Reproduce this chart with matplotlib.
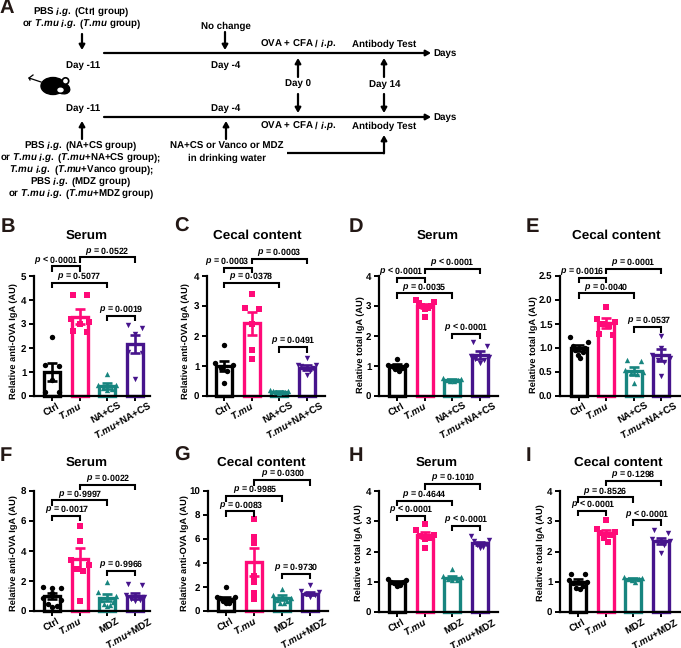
import matplotlib
matplotlib.use('Agg')
import matplotlib.pyplot as plt
from matplotlib.patches import Ellipse, Circle
from matplotlib.transforms import ScaledTranslation

plt.rcParams['font.family'] = 'Liberation Sans'
plt.rcParams['font.weight'] = 'bold'
plt.rcParams['text.hinting'] = 'no_hinting'
plt.rcParams['mathtext.fontset'] = 'custom'
plt.rcParams['mathtext.default'] = 'regular'
plt.rcParams['mathtext.it'] = 'Liberation Sans:italic:bold'
plt.rcParams['mathtext.rm'] = 'Liberation Sans:bold'
plt.rcParams['mathtext.bf'] = 'Liberation Sans:bold'

W, H = 681, 648
TMU = r'$\mathit{T.\!mu}$'
labels_nacs = ['Ctrl', TMU, 'NA+CS', TMU + '+NA+CS']
labels_mdz = ['Ctrl', TMU, 'MDZ', TMU + '+MDZ']

colors = ['#000000', '#ff0a78', '#17857f', '#46148c']
markers = ['o', 's', '^', 'v']

# bar heights, error bars and dots
b_means = [1.0, 3.3, 0.42, 2.17]
b_sems = [0.37, 0.32, 0.12, 0.37]
b_pts = [[2.45, 1.3, 1.25, 0.65, 0.15, 0.15],
         [4.2, 4.2, 3.2, 3.1, 3.0, 2.7, 2.65],
         [0.9, 0.45, 0.45, 0.35, 0.3, 0.25],
         [2.95, 2.85, 2.6, 1.85, 1.8, 0.7]]
c_means = [1.0, 2.42, 0.15, 0.95]
c_sems = [0.18, 0.37, 0.03, 0.07]
c_pts = [[1.7, 1.1, 1.05, 0.95, 0.85, 0.45],
         [3.4, 2.95, 2.9, 2.4, 1.55, 1.25],
         [0.2, 0.18, 0.16, 0.15, 0.14, 0.12, 0.1],
         [1.28, 1.05, 1.02, 1.0, 0.95, 0.9, 0.85, 0.7]]
d_means = [1.0, 3.0, 0.54, 1.37]
d_sems = [0.07, 0.07, 0.03, 0.12]
d_pts = [[1.22, 1.05, 1.02, 1.0, 0.95, 0.9, 0.82],
         [3.2, 3.15, 3.1, 3.0, 3.0, 2.95, 2.9, 2.65],
         [0.6, 0.57, 0.55, 0.52, 0.5, 0.5],
         [1.8, 1.68, 1.35, 1.3, 1.25, 1.2, 1.1]]
e_means = [1.0, 1.52, 0.52, 0.85]
e_sems = [0.07, 0.1, 0.08, 0.12]
e_pts = [[1.22, 1.12, 1.05, 1.0, 0.95, 0.92, 0.85, 0.8],
         [1.85, 1.6, 1.55, 1.5, 1.45, 1.3, 1.28],
         [0.76, 0.72, 0.55, 0.5, 0.48, 0.45, 0.27],
         [1.25, 1.0, 0.85, 0.8, 0.75, 0.7, 0.42]]
f_means = [1.0, 3.45, 0.9, 1.0]
f_sems = [0.17, 0.72, 0.25, 0.22]
f_pts = [[1.6, 1.55, 1.55, 1.2, 0.85, 0.75, 0.5, 0.35, 0.3],
         [5.65, 4.65, 3.4, 3.1, 2.8, 2.7, 0.7],
         [1.95, 1.3, 1.0, 0.75, 0.6, 0.5, 0.4, 0.35],
         [1.8, 1.75, 1.1, 0.95, 0.8, 0.75, 0.7]]
g_means = [1.0, 4.05, 1.1, 1.45]
g_sems = [0.16, 1.17, 0.2, 0.15]
g_pts = [[2.0, 1.2, 1.15, 1.1, 0.95, 0.85, 0.7, 0.65],
         [7.65, 6.15, 5.7, 2.9, 2.4, 1.5, 1.0],
         [1.8, 1.3, 1.1, 0.9, 0.8, 0.7, 0.65],
         [2.15, 1.7, 1.55, 1.45, 1.3, 1.2]]
h_means = [1.0, 2.55, 1.13, 2.27]
h_sems = [0.04, 0.1, 0.05, 0.06]
h_pts = [[1.1, 1.05, 1.0, 0.98, 0.95, 0.9, 0.85],
         [2.9, 2.7, 2.55, 2.5, 2.45, 2.4, 2.1],
         [1.42, 1.2, 1.15, 1.1, 1.05, 1.05],
         [2.5, 2.38, 2.35, 2.25, 2.2, 2.15, 2.1]]
i_means = [1.0, 2.62, 1.08, 2.35]
i_sems = [0.08, 0.1, 0.03, 0.1]
i_pts = [[1.25, 1.25, 1.05, 1.0, 0.95, 0.85, 0.8, 0.75],
         [3.03, 2.75, 2.65, 2.6, 2.55, 2.45, 2.3],
         [1.15, 1.12, 1.1, 1.08, 1.05, 1.0],
         [2.7, 2.6, 2.4, 2.35, 2.3, 2.2, 1.95]]

# brackets: group a, group b, height in axis units, p text, text shift in px
b_br = [(0, 1, 5.40, '< 0.0001', -9), (1, 3, 5.78, '= 0.0522', 0), (0, 2, 4.71, '= 0.5077', 0), (2, 3, 3.35, '= 0.0019', 0)]
c_br = [(0, 1, 4.28, '= 0.0003', -11), (1, 3, 4.57, '= 0.0003', 0), (0, 2, 3.77, '= 0.0378', 0), (2, 3, 1.63, '= 0.0491', 0)]
d_br = [(0, 1, 3.94, '< 0.0001', -9), (1, 3, 4.24, '< 0.0001', 0), (0, 2, 3.42, '= 0.0035', 0), (2, 3, 2.08, '< 0.0001', 0)]
e_br = [(0, 1, 2.465, '= 0.0016', -10), (1, 3, 2.65, '= 0.0001', 0), (0, 2, 2.14, '= 0.0040', 0), (2, 3, 1.436, '= 0.0537', 2)]
f_br = [(0, 1, 6.36, '= 0.0017', 1), (0, 2, 7.38, '= 0.9997', 1), (1, 3, 8.42, '= 0.0022', 1), (2, 3, 2.68, '= 0.9966', 0)]
g_br = [(0, 1, 8.31, '= 0.0083', 1), (0, 2, 9.58, '= 0.9985', 1), (1, 3, 10.91, '= 0.0300', 1), (2, 3, 3.10, '= 0.9730', 0)]
h_br = [(0, 1, 3.18, '< 0.0001', 1), (0, 2, 3.68, '= 0.4644', 0), (1, 3, 4.23, '= 0.1010', 1), (2, 3, 2.85, '< 0.0001', 0)]
i_br = [(0, 1, 3.34, '< 0.0001', 1), (0, 2, 3.79, '= 0.8526', 0), (1, 3, 4.34, '= 0.1298', 0), (2, 3, 3.03, '< 0.0001', 0)]

# how far the end of each rotated label goes past its tick, px
label_dx = {'Ctrl': 7, TMU: 2, 'NA+CS': 14, 'MDZ': 11, TMU + '+NA+CS': 16, TMU + '+MDZ': 16}

fig = plt.figure(figsize=(W / 100, H / 100), dpi=100)


def swarm(vals, ppu):
    # dots close in height are spread across the bar, the highest ones go outside
    groups, out = [], []
    for v in vals:
        if groups and (groups[-1][-1] - v) * ppu < 5:
            groups[-1].append(v)
        else:
            groups.append([v])
    for g in groups:
        n = len(g)
        d = min(14, 18 / max(n - 1, 1))
        offs = [(k - (n - 1) / 2) * d for k in range(n)]
        offs.sort(key=lambda o: -abs(o))
        out += offs
    return out


def panel(left, c0, step, right, y0, ytop, ymax, yticks, ylabels, labels, means, sems, pts, brackets,
          ylab, ylab_x, ylab_y, title, title_x, title_y, letter, letter_x, letter_y):
    ax = fig.add_axes([left / W, 1 - y0 / H, (right - left) / W, (y0 - ytop) / H])
    ax.patch.set_alpha(0)
    ax.set_xlim(-(c0 - left) / step, (right - c0) / step)
    ax.set_ylim(0, ymax)
    ppu = (y0 - ytop) / ymax
    for i in range(4):
        ax.bar(i, means[i], width=0.58, facecolor='white', edgecolor=colors[i], linewidth=2.4, zorder=2, clip_on=False)
        xs = [i + o / step for o in swarm(pts[i], ppu)]
        ax.scatter(xs, pts[i], s=15, c=colors[i], marker=markers[i], linewidths=0, zorder=3, clip_on=False)
        ax.errorbar(i, means[i], yerr=sems[i], color=colors[i], capsize=3.5, elinewidth=1.9, capthick=1.9, zorder=4, clip_on=False)
    for a, b, top, txt, shift in brackets:
        tip = 5.5 / ppu
        ax.plot([a, a, b, b], [top - tip, top, top, top - tip], color='black', lw=1.5, clip_on=False, zorder=5,
                solid_joinstyle='miter', solid_capstyle='butt')
        ax.text((a + b) / 2 + shift / step, top - 0.3 / ppu, r'$\mathit{p}$ ' + txt, ha='center', va='bottom',
                fontsize=6.4, clip_on=False, zorder=6)
    for s in ['top', 'right']:
        ax.spines[s].set_visible(False)
    for s in ['left', 'bottom']:
        ax.spines[s].set_linewidth(1.6)
    ax.set_yticks(yticks)
    ax.set_yticklabels(ylabels, fontsize=7.0)
    ax.set_xticks(range(4))
    ax.set_xticklabels(labels, fontsize=7.0, rotation=30, ha='right', va='center', rotation_mode='anchor')
    ax.tick_params(axis='both', length=3.4, width=1.4, pad=2)
    ax.tick_params(axis='x', pad=3)
    for lab, name in zip(ax.get_xticklabels(), labels):
        off = ScaledTranslation(label_dx[name] / 100, 0, fig.dpi_scale_trans)
        lab.set_transform(lab.get_transform() + off)
    fig.text(ylab_x / W, 1 - ylab_y / H, ylab, rotation=90, ha='center', va='center', fontsize=6.7)
    fig.text(title_x / W, 1 - title_y / H, title, ha='center', va='center', fontsize=9.7)
    fig.text(letter_x / W, 1 - letter_y / H, letter, ha='left', va='center', fontsize=14.5, color='#231815')
    return ax


t5 = [0, 1, 2, 3, 4, 5]
t4 = [0, 1, 2, 3, 4]
t25 = [0, 0.5, 1.0, 1.5, 2.0, 2.5]
t8 = [0, 2, 4, 6, 8]
t10 = [0, 2, 4, 6, 8, 10]
anti = 'Relative anti-OVA IgA (AU)'
total = 'Relative total IgA (AU)'
s4 = [str(v) for v in t4]

panel(34, 52, 27.6, 150, 396, 276, 5, t5, [str(v) for v in t5], labels_nacs, b_means, b_sems, b_pts, b_br,
      anti, 14, 341, 'Serum', 87, 236, 'B', 1, 227)
panel(207, 224, 27.6, 325, 396, 276, 4, t4, s4, labels_nacs, c_means, c_sems, c_pts, c_br,
      anti, 186, 341, 'Cecal content', 257, 236, 'C', 174, 227)
panel(379, 397, 27.6, 498, 396, 276, 4, t4, s4, labels_nacs, d_means, d_sems, d_pts, d_br,
      total, 361, 345, 'Serum', 438, 236, 'D', 349, 227)
panel(560, 579, 27.4, 680, 396, 276, 2.5, t25, ['0.0', '0.5', '1.0', '1.5', '2.0', '2.5'], labels_nacs, e_means, e_sems, e_pts, e_br,
      total, 534, 345, 'Cecal content', 616, 236, 'E', 526, 227)
panel(34, 52, 27.7, 150, 611, 491, 8, t8, [str(v) for v in t8], labels_mdz, f_means, f_sems, f_pts, f_br,
      anti, 14, 553, 'Serum', 87, 463, 'F', 0, 456)
panel(208, 226, 28, 328, 611, 491, 10, t10, [str(v) for v in t10], labels_mdz, g_means, g_sems, g_pts, g_br,
      anti, 185, 553, 'Cecal content', 261, 463, 'G', 174, 456)
panel(379, 397, 27.6, 498, 612, 491, 4, t4, s4, labels_mdz, h_means, h_sems, h_pts, h_br,
      total, 359, 553, 'Serum', 437, 463, 'H', 349, 456)
panel(560, 578, 27.7, 680, 612, 491, 4, t4, s4, labels_mdz, i_means, i_sems, i_pts, i_br,
      total, 541, 553, 'Cecal content', 618, 463, 'I', 526, 456)

# panel A, scheme drawn in pixel coordinates
sk = fig.add_axes([0, 0, 1, 1], zorder=-1)
sk.set_xlim(0, W)
sk.set_ylim(H, 0)
sk.axis('off')
IG = r'$\mathit{i.\!g.}$'
IP = r'$\mathit{i.\!p.}$'
scheme_text = [
    ('PBS ' + IG + ' (Ctrl group)', 81, 12.5), ('or ' + TMU + ' ' + IG + ' (' + TMU + ' group)', 82, 24.5),
    ('No change', 226, 26.5), ('OVA + CFA / ' + IP, 298, 44), ('Antibody Test', 384, 44),
    ('Day -11', 83, 65), ('Day -4', 226, 65), ('Day 0', 298, 84), ('Day 14', 385, 84),
    ('Day -11', 83, 108.5), ('Day -4', 226, 108.5),
    ('OVA + CFA / ' + IP, 298, 126.5), ('Antibody Test', 384, 126.5),
    ('PBS ' + IG + ' (NA+CS group)', 81, 146), ('or ' + TMU + ' ' + IG + ' (' + TMU + '+NA+CS group);', 81, 158.5),
    (TMU + ' ' + IG + ' (' + TMU + '+Vanco group);', 81, 170.5), ('PBS ' + IG + ' (MDZ group)', 81, 182.5),
    ('or ' + TMU + ' ' + IG + ' (' + TMU + '+MDZ group)', 81, 194.5),
    ('NA+CS or Vanco or MDZ', 227, 146), ('in drinking water', 227, 158),
]
for s, x, y in scheme_text:
    sk.text(x, y, s, ha='center', va='center', fontsize=7.0)
sk.text(433, 53.5, 'Days', ha='left', va='center', fontsize=7.0)
sk.text(433, 117, 'Days', ha='left', va='center', fontsize=7.0)
sk.text(0, 8, 'A', ha='left', va='center', fontsize=14.5, color='#231815')


def arrow(x0, y0, x1, y1, lw=1.6, head=6):
    sk.annotate('', xy=(x1, y1), xytext=(x0, y0),
                arrowprops=dict(arrowstyle='-|>,head_width=0.2,head_length=0.35', color='black', lw=lw,
                                shrinkA=0, shrinkB=0, mutation_scale=head * 1.4))


arrow(104, 53, 431, 53)
arrow(104, 117, 431, 117)
for x0, y0, x1, y1 in [(82, 34, 82, 50), (225, 32, 225, 50), (298, 77, 298, 58), (298, 94, 298, 113),
                       (384, 77, 384, 58), (384, 94, 384, 113), (82, 139, 82, 121), (226, 139, 226, 121)]:
    arrow(x0, y0, x1, y1)
sk.plot([287, 384], [152.5, 152.5], color='black', lw=1.6, solid_capstyle='butt')
arrow(384, 153.3, 384, 135)

# mouse
sk.add_patch(Ellipse((53, 86), 24, 17, color='black'))
sk.add_patch(Ellipse((62, 88), 16, 11, angle=20, color='black'))
sk.add_patch(Circle((65.5, 81), 3.2, facecolor='white', edgecolor='black', lw=1.2))
sk.add_patch(Ellipse((60.5, 90), 5, 3.5, color='white'))
sk.plot([30, 29, 41], [80, 78, 82], color='black', lw=0.9)
sk.plot([29, 33], [78, 75], color='black', lw=0.9)

fig.savefig('out.png', dpi=100)
